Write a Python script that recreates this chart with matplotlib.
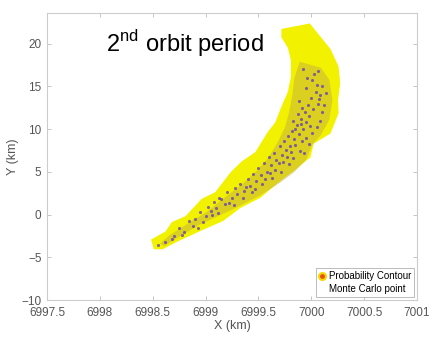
import matplotlib
matplotlib.use("Agg")
import matplotlib.pyplot as plt
from matplotlib.lines import Line2D
from matplotlib.patches import Polygon

plt.rcParams['font.family'] = ['Liberation Sans', 'DejaVu Sans']
plt.rcParams['mathtext.fontset'] = 'custom'
plt.rcParams['mathtext.rm'] = 'Liberation Sans'

# outline of the probability contour (yellow band)
contour_x = [6999.73, 6999.98, 7000.17, 7000.245, 7000.26, 7000.24, 7000.245, 7000.17,
             7000.01, 6999.98, 6999.82, 6999.70, 6999.51, 6999.32, 6999.16, 6998.94,
             6998.73, 6998.59, 6998.52, 6998.50, 6998.63, 6998.69, 6998.82, 6998.97,
             6999.10, 6999.25, 6999.35, 6999.48, 6999.60, 6999.67, 6999.73, 6999.79,
             6999.82, 6999.82, 6999.79, 6999.73]
contour_y = [21.6, 22.2, 19.3, 17.3, 15.4, 13.4, 11.9, 9.6,
             8.4, 6.8, 5.2, 4.1, 2.1, 0.9, -0.6, -1.8,
             -3.0, -3.9, -3.9, -3.0, -2.1, -1.0, -0.3, 1.7,
             2.5, 4.9, 6.1, 7.2, 9.6, 10.7, 12.6, 14.3,
             16.1, 18.1, 19.6, 20.8]

# dense core of the cloud
core_x = [6999.89, 7000.09, 7000.17, 7000.20, 7000.17, 7000.09, 7000.01, 6999.95,
          6999.84, 6999.70, 6999.51, 6999.32, 6999.15, 6998.94, 6998.75, 6998.61,
          6998.57, 6998.66, 6998.85, 6999.01, 6999.18, 6999.34, 6999.49, 6999.59,
          6999.68, 6999.75, 6999.79, 6999.82, 6999.84]
core_y = [17.9, 17.2, 15.8, 13.4, 11.1, 9.3, 8.2, 6.4,
          5.0, 3.7, 2.2, 1.0, 0.0, -1.2, -2.6, -3.7,
          -3.4, -2.4, -0.9, 0.3, 2.0, 3.5, 5.2, 6.6,
          8.4, 10.2, 12.0, 14.0, 16.0]

# Monte Carlo points
mc_x = [6998.62, 6998.70, 6998.75, 6998.80, 6998.84, 6998.90, 6998.95, 6999.00, 6999.02, 6999.05,
        6999.08, 6999.10, 6999.15, 6999.18, 6999.20, 6999.25, 6999.28, 6999.30, 6999.33, 6999.36,
        6999.40, 6999.42, 6999.45, 6999.48, 6999.50, 6999.52, 6999.55, 6999.58, 6999.60, 6999.62,
        6999.65, 6999.67, 6999.70, 6999.72, 6999.74, 6999.76, 6999.78, 6999.80, 6999.82, 6999.84,
        6999.86, 6999.88, 6999.90, 6999.92, 6999.94, 6999.95, 6999.97, 6999.98, 7000.00, 7000.02,
        7000.04, 7000.05, 7000.06, 6999.90, 6999.87, 6999.93, 7000.08, 7000.10, 6999.96, 7000.03,
        6998.55, 6998.68, 6998.78, 6998.88, 6998.93, 6998.98, 6999.06, 6999.12, 6999.13, 6999.22,
        6999.27, 6999.35, 6999.38, 6999.44, 6999.47, 6999.53, 6999.56, 6999.61, 6999.63, 6999.66,
        6999.69, 6999.71, 6999.73, 6999.77, 6999.79, 6999.81, 6999.83, 6999.85, 6999.89, 6999.91,
        6999.95, 6999.98, 7000.01, 7000.05, 7000.08, 6999.99, 6999.85, 6999.83, 6999.91, 7000.12,
        7000.07, 6999.88, 7000.10, 7000.01, 6999.95, 7000.06, 6999.92, 7000.14]
mc_y = [-3.2, -2.5, -1.6, -2.0, -0.8, -0.5, 0.3, -0.2, 0.9, 0.4,
        1.5, 0.8, 1.8, 1.2, 2.6, 2.0, 3.1, 2.4, 3.6, 2.8,
        4.2, 3.4, 4.8, 3.9, 5.5, 4.6, 6.0, 5.0, 6.8, 5.8,
        7.2, 6.4, 8.0, 7.0, 8.6, 7.6, 9.2, 8.0, 9.8, 8.8,
        10.5, 9.4, 11.2, 10.0, 12.0, 10.8, 12.8, 11.5, 13.6, 12.4,
        14.4, 15.2, 13.0, 10.6, 11.8, 7.2, 14.0, 12.0, 16.0, 16.5,
        -3.6, -2.9, -2.4, -1.3, -1.6, -0.9, -0.1, 0.2, 1.9, 1.4,
        1.1, 2.0, 3.2, 2.6, 3.0, 3.6, 4.2, 4.9, 4.3, 5.2,
        6.0, 5.0, 6.2, 6.8, 5.9, 7.3, 6.6, 8.1, 7.5, 8.6,
        9.0, 8.3, 9.6, 10.3, 11.0, 10.4, 10.0, 11.0, 12.5, 12.8,
        13.5, 13.3, 15.0, 15.7, 14.8, 16.8, 17.0, 14.2]

x_ticks = [6997.5, 6998, 6998.5, 6999, 6999.5, 7000, 7000.5, 7001]
x_ticklabels = ['6997.5', '6998', '6998.5', '6999', '6999.5', '7000', '7000.5', '7001']
y_ticks = [-10, -5, 0, 5, 10, 15, 20]

fig = plt.figure(figsize=(4.29, 3.39), dpi=100)
ax = fig.add_axes([0.1096, 0.115, 0.8625, 0.8466])

ax.add_patch(Polygon(list(zip(contour_x, contour_y)), closed=True,
                     facecolor='#f2f200', edgecolor='#f2f200', linewidth=2, zorder=2))
ax.add_patch(Polygon(list(zip(core_x, core_y)), closed=True,
                     facecolor='#c9b43c', edgecolor='none', alpha=0.55, zorder=3))
ax.scatter(mc_x, mc_y, s=5, color='#5a30c0', alpha=0.7, linewidths=0, zorder=4)

ax.set_xlim(6997.5, 7001)
ax.set_ylim(-10, 23.6)
ax.set_xticks(x_ticks)
ax.set_xticklabels(x_ticklabels)
ax.set_yticks(y_ticks)
ax.tick_params(direction='in', length=3, top=True, right=True,
               labelsize=8.5, labelcolor='#555555', color='#bbbbbb', width=0.6)
ax.tick_params(axis='x', pad=5)
ax.tick_params(axis='y', pad=4)
for s in ax.spines.values():
    s.set_color('#cccccc')
    s.set_linewidth(0.8)

ax.set_xlabel('X (km)', fontsize=9, color='#555555', labelpad=1)
ax.set_ylabel('Y (km)', fontsize=9, color='#555555', labelpad=2)

fig.text(0.247, 0.847, r'2$^{\mathrm{nd}}$ orbit period', fontsize=17,
         color='black', va='baseline', ha='left')

handles = [Line2D([], [], linestyle='none', marker='o', markersize=5,
                  markerfacecolor='#e8501a', markeredgecolor='#f5d800', markeredgewidth=1.5),
           Line2D([], [], linestyle='none', marker='')]
leg = ax.legend(handles, ['Probability Contour', 'Monte Carlo point'], loc='lower right',
                fontsize=7, frameon=True, fancybox=False, handlelength=0.6,
                handletextpad=0.4, borderpad=0.3, labelspacing=0.3,
                borderaxespad=0.3)
leg.get_frame().set_edgecolor('#aaaaaa')
leg.get_frame().set_linewidth(0.7)

fig.savefig('out.png', dpi=100)
